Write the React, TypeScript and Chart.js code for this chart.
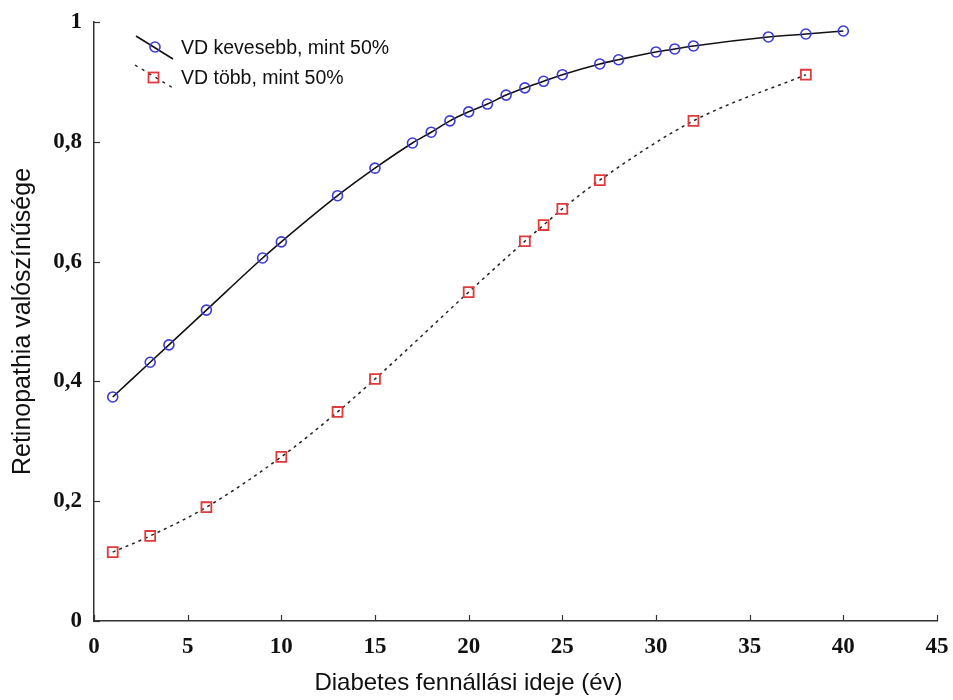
import React, { useEffect, useRef } from "react";
import { Chart, registerables } from "chart.js";

Chart.register(...registerables);

const lowYears = [1, 3, 4, 6, 9, 10, 13, 15, 17, 18, 19, 20, 21, 22, 23, 24, 25, 27, 28, 30, 31, 32, 36, 38, 40];
const lowValues = [0.374, 0.432, 0.461, 0.519, 0.606, 0.633, 0.71, 0.756, 0.798, 0.816, 0.835, 0.85, 0.863, 0.878, 0.89, 0.901, 0.912, 0.93, 0.937, 0.95, 0.955, 0.96, 0.975, 0.98, 0.985];
const highYears = [1, 3, 6, 10, 13, 15, 20, 23, 24, 25, 27, 32, 38];
const highValues = [0.115, 0.142, 0.19, 0.274, 0.349, 0.404, 0.549, 0.634, 0.661, 0.688, 0.736, 0.835, 0.912];
const seriesLabels = ["VD kevesebb, mint 50%", "VD több, mint 50%"];
const xTitle = "Diabetes fennállási ideje (év)";
const yTitle = "Retinopathia valószínűsége";

const SANS = "'Liberation Sans', Arial, sans-serif";
const SERIF = "'Liberation Serif', 'Times New Roman', serif";

const innerTicks = {
  id: "innerTicks",
  afterDraw(chart: any) {
    const { ctx, chartArea, scales } = chart;
    ctx.save();
    ctx.strokeStyle = "#333";
    ctx.lineWidth = 1.2;
    scales.x.ticks.forEach((t: any) => {
      const px = Math.round(scales.x.getPixelForValue(t.value)) + 0.5;
      ctx.beginPath();
      ctx.moveTo(px, chartArea.bottom);
      ctx.lineTo(px, chartArea.bottom - 6);
      ctx.stroke();
    });
    scales.y.ticks.forEach((t: any) => {
      const py = Math.round(scales.y.getPixelForValue(t.value)) + 0.5;
      ctx.beginPath();
      ctx.moveTo(chartArea.left, py);
      ctx.lineTo(chartArea.left + 6, py);
      ctx.stroke();
    });
    ctx.restore();
  },
};

const customLegend = {
  id: "customLegend",
  afterDraw(chart: any) {
    const { ctx } = chart;
    ctx.save();
    ctx.strokeStyle = "#111";
    ctx.lineWidth = 1.6;
    ctx.setLineDash([]);
    ctx.beginPath();
    ctx.moveTo(136, 36);
    ctx.lineTo(173, 59);
    ctx.stroke();
    ctx.strokeStyle = "#3a3ad8";
    ctx.lineWidth = 1.6;
    ctx.beginPath();
    ctx.arc(155, 47, 5, 0, Math.PI * 2);
    ctx.stroke();
    ctx.strokeStyle = "#222";
    ctx.lineWidth = 1.4;
    ctx.setLineDash([3, 5]);
    ctx.beginPath();
    ctx.moveTo(135, 65);
    ctx.lineTo(173, 88);
    ctx.stroke();
    ctx.setLineDash([]);
    ctx.strokeStyle = "#e03a3a";
    ctx.lineWidth = 1.8;
    ctx.strokeRect(148.5, 72.5, 10, 10);
    ctx.fillStyle = "#111";
    ctx.font = `19.5px ${SANS}`;
    ctx.textBaseline = "middle";
    ctx.textAlign = "left";
    ctx.fillText(seriesLabels[0], 181, 49);
    ctx.fillText(seriesLabels[1], 181, 79);
    ctx.restore();
  },
};

export default function App() {
  const ref = useRef<HTMLCanvasElement | null>(null);
  useEffect(() => {
    if (!ref.current) return;
    const chart = new Chart(ref.current, {
      type: "line",
      data: {
        datasets: [
          {
            label: seriesLabels[0],
            data: lowYears.map((x, i) => ({ x, y: lowValues[i] })),
            borderColor: "#111",
            borderWidth: 1.6,
            pointStyle: "circle",
            pointRadius: 5,
            pointBorderColor: "#3a3ad8",
            pointBackgroundColor: "transparent",
            pointBorderWidth: 1.6,
            cubicInterpolationMode: "monotone",
            fill: false,
          },
          {
            label: seriesLabels[1],
            data: highYears.map((x, i) => ({ x, y: highValues[i] })),
            borderColor: "#222",
            borderWidth: 1.5,
            borderDash: [3, 4],
            pointStyle: "rect",
            pointRadius: 7,
            pointBorderColor: "#e03a3a",
            pointBackgroundColor: "transparent",
            pointBorderWidth: 1.8,
            cubicInterpolationMode: "monotone",
            fill: false,
          },
        ],
      },
      options: {
        animation: false,
        responsive: true,
        maintainAspectRatio: false,
        layout: { padding: { left: 0, right: 16, top: 22, bottom: 0 } },
        plugins: {
          legend: { display: false },
          tooltip: { enabled: false },
          title: {
            display: true,
            position: "bottom",
            text: xTitle,
            color: "#111",
            font: { family: SANS, size: 24, weight: "normal" },
            padding: { top: 4, bottom: 2 },
          },
        },
        scales: {
          x: {
            type: "linear",
            min: 0,
            max: 45,
            ticks: {
              stepSize: 5,
              padding: 12,
              color: "#111",
              font: { family: SERIF, size: 23, weight: "bold" },
            },
            grid: { display: false, drawTicks: false },
            border: { display: true, color: "#333", width: 1.5 },
            afterFit(scale: any) {
              scale.height = 44.2;
              scale.paddingLeft = 0;
              scale.paddingRight = 0;
            },
          },
          y: {
            type: "linear",
            min: 0,
            max: 1,
            ticks: {
              stepSize: 0.2,
              padding: 12,
              color: "#111",
              font: { family: SERIF, size: 23, weight: "bold" },
              callback: (v: any) => {
                const n = Number(v);
                if (n === 0) return "0";
                if (Math.abs(n - 1) < 1e-9) return "1";
                return n.toFixed(1).replace(".", ",");
              },
            },
            grid: { display: false, drawTicks: false },
            border: { display: true, color: "#333", width: 1.5 },
            title: {
              display: true,
              text: yTitle,
              color: "#111",
              font: { family: SANS, size: 25 },
              padding: { top: 8, bottom: 0 },
            },
            afterFit(scale: any) {
              scale.width = 94;
              scale.paddingTop = 0;
              scale.paddingBottom = 0;
            },
          },
        },
      },
      plugins: [innerTicks, customLegend],
    } as any);
    return () => chart.destroy();
  }, []);
  return (
    <div style={{ position: "absolute", left: 0, top: 0, width: 953, height: 700, background: "#fff" }}>
      <canvas ref={ref} />
    </div>
  );
}
